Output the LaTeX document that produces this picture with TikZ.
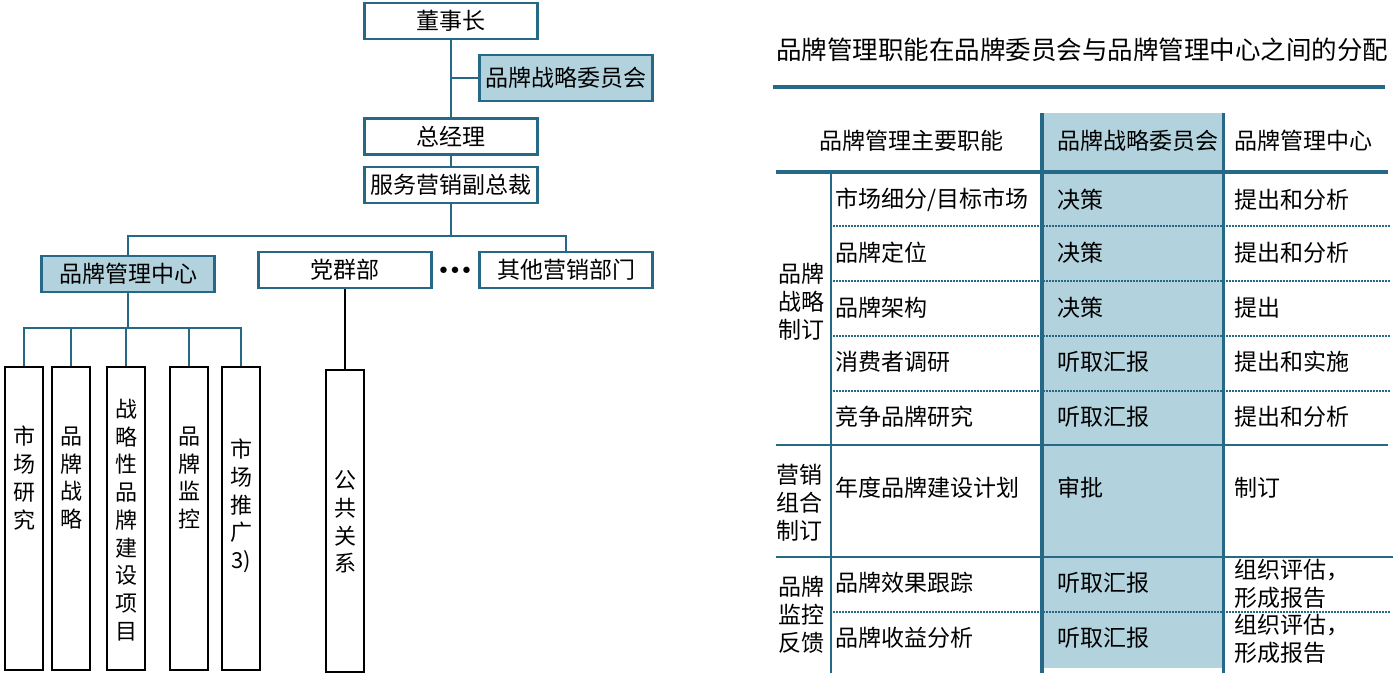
\documentclass[tikz,border=0pt]{standalone}
\usepackage{fontspec}
\setmainfont{Noto Sans CJK SC}
\newfontfamily\dotfont{DejaVu Sans}
\usetikzlibrary{positioning}
\definecolor{linkblue}{RGB}{38,105,134}
\definecolor{boardfill}{RGB}{178,211,222}

\begin{document}
\begin{tikzpicture}[x=1pt,y=-1pt,
	orgbox/.style={draw=linkblue, line width=2.5pt, inner sep=0pt, minimum width=173pt, minimum height=36pt, font=\fontsize{23}{23}\selectfont},
	filled/.style={fill=boardfill},
	unitbox/.style={draw=black, line width=2.5pt, inner sep=0pt, minimum width=38pt, minimum height=303pt},
	vlabel/.style={align=center, inner sep=0pt, font=\fontsize{22}{27.7}\selectfont},
	link/.style={draw=linkblue, line width=2.5pt},
	cell/.style={anchor=west, inner sep=0pt, align=left, font=\fontsize{23}{28}\selectfont},
	rule/.style={draw=linkblue, line width=#1},
	rule/.default=2.5pt,
	dotrule/.style={draw=linkblue, line width=1.5pt, dash pattern=on 1.5pt off 1.5pt}]
			\useasboundingbox (0,0) rectangle (1393,673);
			\node[orgbox] (chair) at (451,21) {董事长};
			\node[orgbox, filled, minimum height=46pt] (board) at (566,78) {品牌战略委员会};
			\node[orgbox] (gm) at (451,136.5) {总经理};
			\node[orgbox] (vp) at (451,185) {服务营销副总裁};
			\node[orgbox, filled] (brandctr) at (128,274) {品牌管理中心};
			\node[orgbox] (party) at (345,270) {党群部};
			\node[inner sep=0pt, font=\dotfont\fontsize{22}{22}\selectfont] (dots) at (455,273) {•\kern-1.5pt•\kern-1.5pt•};
			\node[orgbox] (others) at (566,270) {其他营销部门};
			\coordinate (bus) at (451,236);
			\coordinate (subbus) at (128,328);
			\draw[link] (chair.south) -- (gm.north);
			\draw[link] (chair.south |- board.west) -- (board.west);
			\draw[link] (gm.south) -- (vp.north);
			\draw[link] (vp.south) -- (bus);
			\draw[link] (brandctr.north) |- (bus) -| (others.north);
			\node[unitbox] (research) at (24,518.5) {};
			\node[unitbox] (strategy) at (71,518.5) {};
			\node[unitbox] (project) at (126,518.5) {};
			\node[unitbox] (monitor) at (189,518.5) {};
			\node[unitbox] (promo) at (241,518.5) {};
			\node[unitbox, minimum height=302pt] (pubrel) at (345,521) {};
			\node[vlabel] (researchtext) at (24,478) {市\\场\\研\\究};
			\node[vlabel] (strategytext) at (71,478) {品\\牌\\战\\略};
			\node[vlabel] (projecttext) at (126,520) {战\\略\\性\\品\\牌\\建\\设\\项\\目};
			\node[vlabel] (monitortext) at (189,478) {品\\牌\\监\\控};
			\node[vlabel] (promotext) at (241,506) {市\\场\\推\\广\\3)};
			\node[vlabel] (pubreltext) at (345,522) {公\\共\\关\\系};
			\draw[link] (brandctr.south) -- (subbus);
			\draw[link] (research.north) |- (subbus);
			\draw[link] (strategy.north) |- (subbus);
			\draw[link] (project.north) |- (subbus);
			\draw[link] (monitor.north) |- (subbus);
			\draw[link] (promo.north) |- (subbus);
			\draw[black, line width=2pt] (party.south) -- (pubrel.north);
			\node[cell, font=\fontsize{25.5}{25.5}\selectfont] (title) at (776,50) {品牌管理职能在品牌委员会与品牌管理中心之间的分配};
			\draw[rule=4pt] (773,87) -- (1385,87);
			\fill[boardfill] (1042,113) rectangle (1224,668);
			\draw[dotrule] (833,226) -- (1390,226);
			\draw[dotrule] (833,281) -- (1390,281);
			\draw[dotrule] (833,336) -- (1390,336);
			\draw[dotrule] (833,391) -- (1390,391);
			\draw[dotrule] (833,612) -- (1390,612);
			\draw[rule=4pt] (776,172) -- (1388,172);
			\draw[rule] (776,445) -- (1388,445);
			\draw[rule] (776,557) -- (1393,557);
			\draw[rule] (831,172) -- (831,673);
			\draw[rule=4pt] (1042,113) -- (1042,673);
			\draw[rule=3pt] (1223,113) -- (1223,673);
			\node[cell, anchor=center] (hfunc) at (911,141) {品牌管理主要职能};
			\node[cell] (hboard) at (1057,141) {品牌战略委员会};
			\node[cell] (hctr) at (1234,141) {品牌管理中心};
			\node[cell, anchor=center, align=center] (catA) at (801,302) {品牌\\战略\\制订};
			\node[cell, anchor=center, align=center] (catB) at (799,503) {营销\\组合\\制订};
			\node[cell, anchor=center, align=center] (catC) at (801,615) {品牌\\监控\\反馈};
			\node[cell] (fA) at (835,200) {市场细分/目标市场};
			\node[cell] (bA) at (1057,200) {决策};
			\node[cell] (cA) at (1234,200) {提出和分析};
			\node[cell] (fB) at (835,253) {品牌定位};
			\node[cell] (bB) at (1057,253) {决策};
			\node[cell] (cB) at (1234,253) {提出和分析};
			\node[cell] (fC) at (835,308) {品牌架构};
			\node[cell] (bC) at (1057,308) {决策};
			\node[cell] (cC) at (1234,308) {提出};
			\node[cell] (fD) at (835,362) {消费者调研};
			\node[cell] (bD) at (1057,362) {听取汇报};
			\node[cell] (cD) at (1234,362) {提出和实施};
			\node[cell] (fE) at (835,417) {竞争品牌研究};
			\node[cell] (bE) at (1057,417) {听取汇报};
			\node[cell] (cE) at (1234,417) {提出和分析};
			\node[cell] (fF) at (835,488) {年度品牌建设计划};
			\node[cell] (bF) at (1057,488) {审批};
			\node[cell] (cF) at (1234,488) {制订};
			\node[cell] (fG) at (835,583) {品牌效果跟踪};
			\node[cell] (bG) at (1057,583) {听取汇报};
			\node[cell] (cG) at (1234,584) {组织评估，\\形成报告};
			\node[cell] (fH) at (835,638) {品牌收益分析};
			\node[cell] (bH) at (1057,638) {听取汇报};
			\node[cell] (cH) at (1234,638.5) {组织评估，\\形成报告};
		\end{tikzpicture}
\end{document}
